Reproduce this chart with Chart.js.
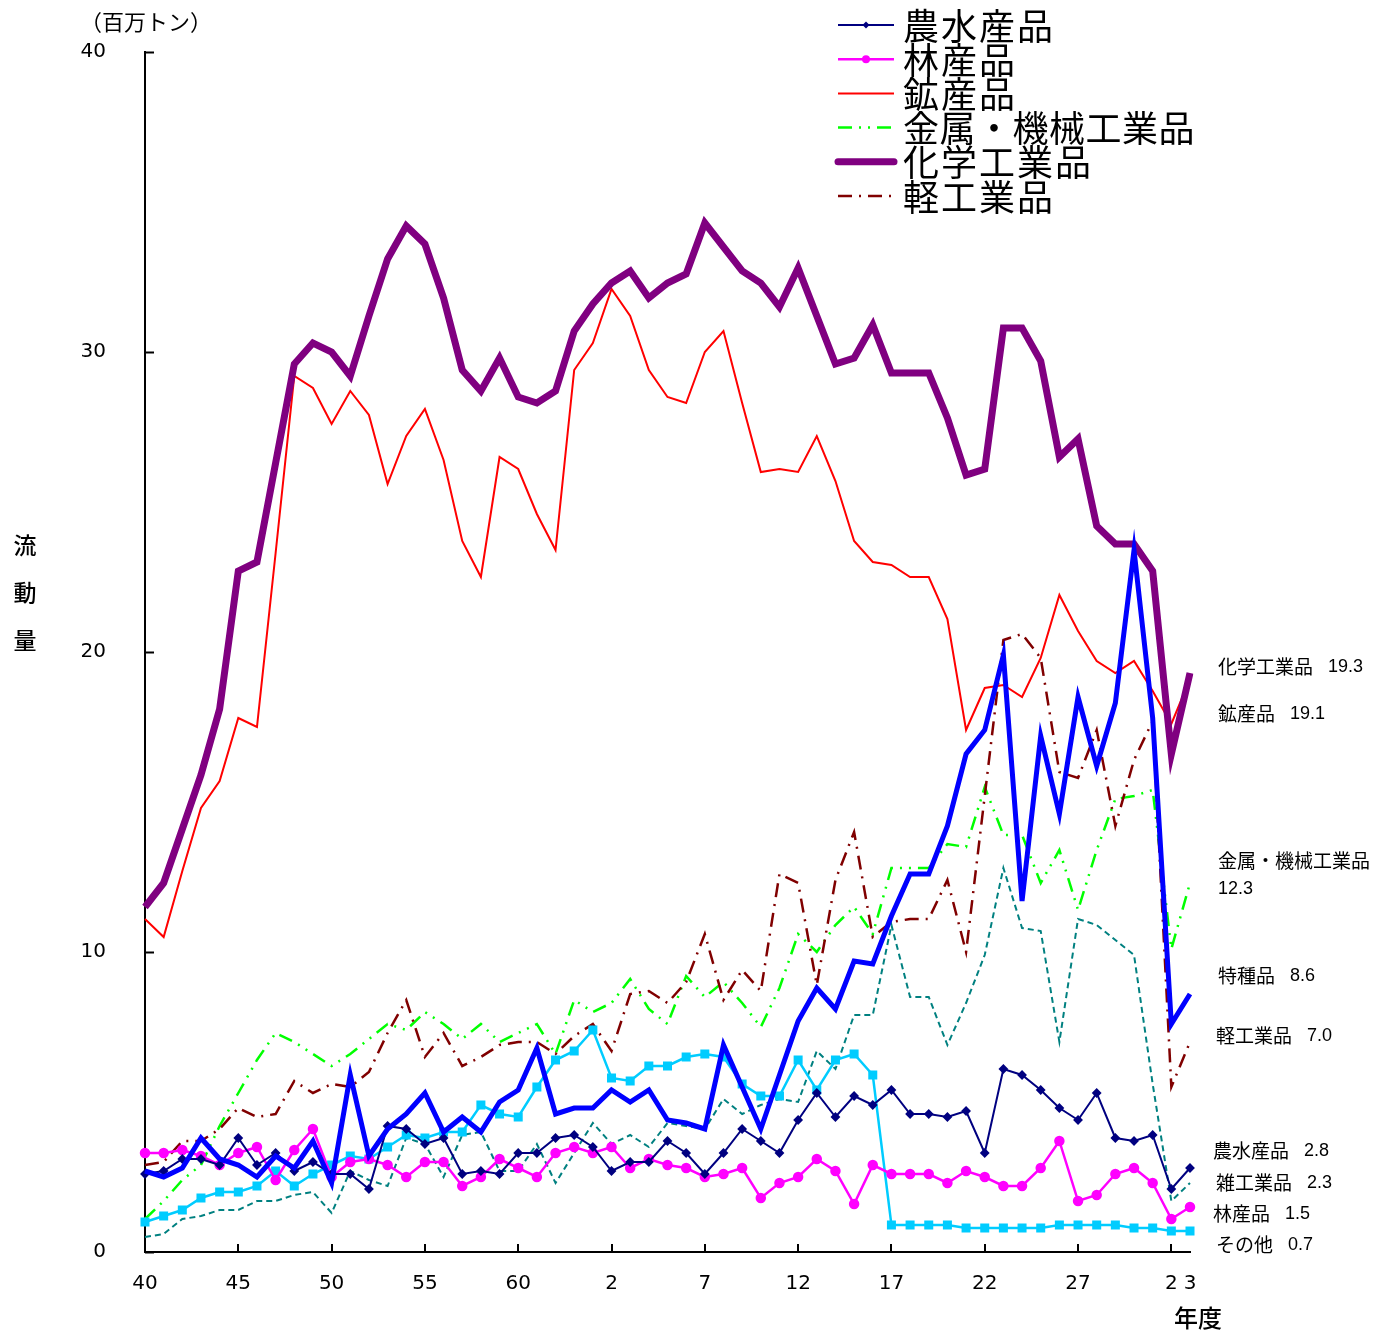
<!DOCTYPE html>
<html lang="ja">
<head>
<meta charset="UTF-8">
<title>品目別流動量の推移</title>
<script src="https://cdn.jsdelivr.net/npm/chart.js@4.4.0/dist/chart.umd.min.js"></script>
<style>
  body { margin: 0; background: #fff; }
  #wrap { width: 1387px; height: 1333px; }
</style>
</head>
<body>
<div id="wrap"><canvas id="myChart" width="1387" height="1333"></canvas></div>
<script>
// 年度 (昭和40 = 1965 ... 令和3 = 2021)
const categories = [
  '昭和40','昭和41','昭和42','昭和43','昭和44','昭和45','昭和46','昭和47','昭和48','昭和49',
  '昭和50','昭和51','昭和52','昭和53','昭和54','昭和55','昭和56','昭和57','昭和58','昭和59',
  '昭和60','昭和61','昭和62','昭和63','平成元','平成2','平成3','平成4','平成5','平成6',
  '平成7','平成8','平成9','平成10','平成11','平成12','平成13','平成14','平成15','平成16',
  '平成17','平成18','平成19','平成20','平成21','平成22','平成23','平成24','平成25','平成26',
  '平成27','平成28','平成29','平成30','令和元','令和2','令和3'
];
// x軸に表示する年度とその表示文字
const tickYears  = ['昭和40','昭和45','昭和50','昭和55','昭和60','平成2','平成7','平成12','平成17','平成22','平成27','令和2','令和3'];
const tickLabels = ['40','45','50','55','60','2','7','12','17','22','27','2','3'];
const yTicks = [0, 10, 20, 30, 40];

// 流動量 (百万トン)
const agri    = [2.6,2.7,3.1,3.1,2.9,3.8,2.9,3.3,2.7,3.0, 2.6,2.6,2.1,4.2,4.1,3.6,3.8,2.6,2.7,2.6,
                 3.3,3.3,3.8,3.9,3.5,2.7,3.0,3.0,3.7,3.3, 2.6,3.3,4.1,3.7,3.3,4.4,5.3,4.5,5.2,4.9,
                 5.4,4.6,4.6,4.5,4.7,3.3,6.1,5.9,5.4,4.8, 4.4,5.3,3.8,3.7,3.9,2.1,2.8];
const forest  = [3.3,3.3,3.4,3.2,2.9,3.3,3.5,2.4,3.4,4.1, 2.5,3.0,3.1,2.9,2.5,3.0,3.0,2.2,2.5,3.1,
                 2.8,2.5,3.3,3.5,3.3,3.5,2.8,3.1,2.9,2.8, 2.5,2.6,2.8,1.8,2.3,2.5,3.1,2.7,1.6,2.9,
                 2.6,2.6,2.6,2.3,2.7,2.5,2.2,2.2,2.8,3.7, 1.7,1.9,2.6,2.8,2.3,1.1,1.5];
const mineral = [11.1,10.5,12.7,14.8,15.7,17.8,17.5,23.3,29.2,28.8, 27.6,28.7,27.9,25.6,27.2,28.1,26.4,23.7,22.5,26.5,
                 26.1,24.6,23.4,29.4,30.3,32.1,31.2,29.4,28.5,28.3, 30.0,30.7,28.3,26.0,26.1,26.0,27.2,25.7,23.7,23.0,
                 22.9,22.5,22.5,21.1,17.4,18.8,18.9,18.5,19.8,21.9, 20.7,19.7,19.3,19.7,18.7,17.6,19.1];
const metal   = [1.1,1.7,2.4,2.9,4.2,5.3,6.4,7.3,7.0,6.6, 6.2,6.6,7.1,7.6,7.4,8.0,7.6,7.1,7.6,7.0,
                 7.3,7.6,6.6,8.4,8.0,8.3,9.1,8.1,7.6,9.2, 8.5,9.0,8.3,7.5,8.8,10.6,10.0,10.9,11.5,10.6,
                 12.8,12.8,12.8,13.6,13.5,15.5,13.9,13.9,12.3,13.4, 11.4,13.4,15.1,15.2,15.4,10.1,12.3];
const chem    = [11.5,12.3,14.1,15.9,18.1,22.7,23.0,26.3,29.6,30.3, 30.0,29.2,31.2,33.1,34.2,33.6,31.8,29.4,28.7,29.8,
                 28.5,28.3,28.7,30.7,31.6,32.3,32.7,31.8,32.3,32.6, 34.3,33.5,32.7,32.3,31.5,32.8,31.2,29.6,29.8,30.9,
                 29.3,29.3,29.3,27.8,25.9,26.1,30.8,30.8,29.7,26.5, 27.1,24.2,23.6,23.6,22.7,16.6,19.3];
const light   = [2.9,3.0,3.7,3.7,4.1,4.8,4.5,4.6,5.7,5.3, 5.6,5.5,6.0,7.3,8.4,6.5,7.3,6.2,6.5,6.9,
                 7.0,7.0,6.6,7.2,7.6,6.7,8.6,8.7,8.3,9.0, 10.6,8.4,9.4,8.7,12.6,12.3,8.9,12.4,14.0,10.5,
                 11.0,11.1,11.1,12.4,10.0,15.2,20.4,20.6,19.8,16.0, 15.8,17.4,14.2,16.4,17.7,5.5,7.0];
const special = [2.7,2.5,2.8,3.8,3.1,2.9,2.5,3.2,2.8,3.7, 2.3,5.9,3.2,4.1,4.6,5.3,4.0,4.5,4.0,5.0,
                 5.4,6.8,4.6,4.8,4.8,5.4,5.0,5.4,4.4,4.3, 4.1,6.9,5.5,4.1,5.9,7.7,8.8,8.1,9.7,9.6,
                 11.2,12.6,12.6,14.2,16.6,17.4,19.9,11.7,17.2,14.6, 18.5,16.2,18.3,23.4,17.8,7.6,8.6];
const misc    = [0.5,0.6,1.1,1.2,1.4,1.4,1.7,1.7,1.9,2.0, 1.3,2.7,2.4,2.2,3.8,3.6,2.5,3.9,4.0,2.7,
                 2.7,3.6,2.3,3.3,4.3,3.6,3.9,3.5,4.3,4.2, 4.1,5.1,4.6,4.9,5.1,5.0,6.7,6.1,7.9,7.9,
                 10.9,8.5,8.5,6.9,8.3,9.9,12.8,10.8,10.7,7.0, 11.1,10.9,10.4,9.9,5.6,1.7,2.3];
const other   = [1.0,1.2,1.4,1.8,2.0,2.0,2.2,2.7,2.2,2.6, 2.9,3.2,3.1,3.5,3.9,3.8,4.0,4.0,4.9,4.6,
                 4.5,5.5,6.4,6.7,7.4,5.8,5.7,6.2,6.2,6.5, 6.6,6.5,5.6,5.2,5.2,6.4,5.4,6.4,6.6,5.9,
                 0.9,0.9,0.9,0.9,0.8,0.8,0.8,0.8,0.8,0.9, 0.9,0.9,0.9,0.8,0.8,0.7,0.7];

const legendNames = ['農水産品', '林産品', '鉱産品', '金属・機械工業品', '化学工業品', '軽工業品'];

// 右端のラベル位置 (px)
const sideLabels = [
  { name: '化学工業品', x: 1218, y: 667 },
  { name: '鉱産品', x: 1218, y: 714 },
  { name: '金属・機械工業品', x: 1218, y: 861, wrap: true },
  { name: '特種品', x: 1218, y: 976 },
  { name: '軽工業品', x: 1216, y: 1036 },
  { name: '農水産品', x: 1213, y: 1151 },
  { name: '雑工業品', x: 1216, y: 1183 },
  { name: '林産品', x: 1213, y: 1214 },
  { name: 'その他', x: 1216, y: 1245 }
];

const JP = "'Noto Sans CJK JP', 'Noto Sans', sans-serif";
const NUM = "'DejaVu Sans', 'Liberation Sans', sans-serif";
const LAB = "'Liberation Sans', Arial, sans-serif";

const plain = { pointRadius: 0, tension: 0, fill: false };
const datasets = [
  { label: '特種品', data: special, borderColor: '#0000FF', borderWidth: 5, ...plain },
  { label: '化学工業品', data: chem, borderColor: '#800080', borderWidth: 7, ...plain },
  { label: '農水産品', data: agri, borderColor: '#000080', borderWidth: 2, tension: 0,
    pointStyle: 'rectRot', pointRadius: 3.5, pointBackgroundColor: '#000080', pointBorderColor: '#000080' },
  { label: '林産品', data: forest, borderColor: '#FF00FF', borderWidth: 2.5, tension: 0,
    pointStyle: 'circle', pointRadius: 4, pointBackgroundColor: '#FF00FF', pointBorderColor: '#FF00FF' },
  { label: 'その他', data: other, borderColor: '#00CCFF', borderWidth: 2.5, tension: 0,
    pointStyle: 'rect', pointRadius: 4.6, pointBackgroundColor: '#00CCFF', pointBorderColor: '#00CCFF' },
  { label: '雑工業品', data: misc, borderColor: '#008080', borderWidth: 2, borderDash: [6, 4], ...plain },
  { label: '軽工業品', data: light, borderColor: '#800000', borderWidth: 2.5, borderDash: [14, 7, 2, 7], ...plain },
  { label: '金属・機械工業品', data: metal, borderColor: '#00FF00', borderWidth: 2.5, borderDash: [14, 7, 2, 7, 2, 7], ...plain },
  { label: '鉱産品', data: mineral, borderColor: '#FF0000', borderWidth: 2, ...plain }
];

const decorations = {
  id: 'decorations',
  afterDraw(chart) {
    const { ctx, chartArea: a, scales: { x, y } } = chart;
    const byName = {};
    chart.data.datasets.forEach(d => { byName[d.label] = d; });
    ctx.save();

    // 内向きの目盛り
    ctx.strokeStyle = '#000';
    ctx.lineWidth = 2;
    yTicks.forEach(v => {
      const py = Math.round(y.getPixelForValue(v)) + 0.5;
      ctx.beginPath(); ctx.moveTo(a.left, py); ctx.lineTo(a.left + 9, py); ctx.stroke();
    });
    tickYears.slice(0, -1).forEach(c => {
      const px = Math.round(x.getPixelForValue(categories.indexOf(c)));
      ctx.beginPath(); ctx.moveTo(px, a.bottom); ctx.lineTo(px, a.bottom - 8); ctx.stroke();
    });

    // 単位・軸タイトル
    ctx.fillStyle = '#000';
    ctx.textBaseline = 'middle';
    ctx.textAlign = 'left';
    ctx.font = '22px ' + JP;
    ctx.fillText('（百万トン）', 80, 22);
    ctx.font = '500 23px ' + JP;
    ctx.textAlign = 'center';
    ['流', '動', '量'].forEach((ch, i) => ctx.fillText(ch, 25, 545 + i * 47.5));
    ctx.font = '500 24px ' + JP;
    ctx.fillText('年度', 1198, 1318);

    // 凡例
    ctx.font = '36px ' + JP;
    ctx.textAlign = 'left';
    legendNames.forEach((name, i) => {
      const d = byName[name];
      const ly = 25 + i * 34.2;
      ctx.strokeStyle = d.borderColor;
      ctx.lineWidth = d.borderWidth;
      ctx.lineCap = d.borderWidth > 5 ? 'round' : 'butt';
      ctx.setLineDash(d.borderDash || []);
      ctx.beginPath(); ctx.moveTo(838, ly); ctx.lineTo(894, ly); ctx.stroke();
      ctx.setLineDash([]);
      if (d.pointRadius) {
        ctx.fillStyle = d.pointBackgroundColor;
        ctx.beginPath();
        if (d.pointStyle === 'rectRot') {
          const r = d.pointRadius;
          ctx.moveTo(866 - r, ly); ctx.lineTo(866, ly - r); ctx.lineTo(866 + r, ly); ctx.lineTo(866, ly + r);
        } else {
          ctx.arc(866, ly, d.pointRadius, 0, Math.PI * 2);
        }
        ctx.closePath(); ctx.fill();
      }
      ctx.fillStyle = '#000';
      ctx.letterSpacing = name.length > 6 ? '0.5px' : '2px';
      ctx.fillText(name, 903, ly + 1);
    });
    ctx.letterSpacing = '0px';

    // 右端の最新値ラベル
    sideLabels.forEach(s => {
      const d = byName[s.name];
      const v = d.data[d.data.length - 1].toFixed(1);
      ctx.font = '19px ' + JP;
      ctx.fillText(s.name, s.x, s.y);
      const w = ctx.measureText(s.name).width;
      ctx.font = '18px ' + LAB;
      if (s.wrap) {
        ctx.fillText(v, s.x, s.y + 28);
      } else {
        ctx.fillText(v, s.x + w + 15, s.y);
      }
    });
    ctx.restore();
  }
};

const ctx = document.getElementById('myChart').getContext('2d');
const myChart = new Chart(ctx, {
  type: 'line',
  data: { labels: categories, datasets: datasets },
  options: {
    responsive: false,
    animation: false,
    layout: { padding: { top: 52, right: 197, left: 0, bottom: 0 } },
    plugins: { legend: { display: false }, tooltip: { enabled: false } },
    scales: {
      x: {
        grid: { display: false },
        border: { color: '#000', width: 2 },
        ticks: {
          autoSkip: false, maxRotation: 0, padding: 12, color: '#000',
          font: { family: NUM, size: 20 },
          callback: (v, i) => {
            const k = tickYears.indexOf(categories[i]);
            return k >= 0 ? tickLabels[k] : '';
          }
        },
        afterFit: s => { s.height = 81; }
      },
      y: {
        min: 0, max: 40,
        grid: { display: false },
        border: { color: '#000', width: 2 },
        ticks: { stepSize: 10, padding: 31, color: '#000', font: { family: NUM, size: 20 } },
        afterFit: s => { s.width = 145; }
      }
    }
  },
  plugins: [decorations]
});
</script>
</body>
</html>
